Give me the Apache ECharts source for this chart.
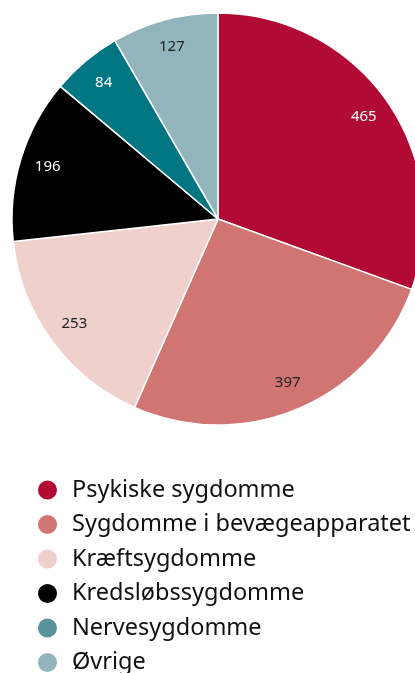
<!DOCTYPE html>
<html><head><meta charset="utf-8">
<script src="https://cdn.jsdelivr.net/npm/echarts@6/dist/echarts.min.js"></script>
<style>html,body{margin:0;padding:0;background:#fff}#c{width:415px;height:673px}</style>
</head><body><div id="c"></div>
<script>
const categories = ["Psykiske sygdomme","Sygdomme i bevægeapparatet","Kræftsygdomme","Kredsløbssygdomme","Nervesygdomme","Øvrige"];
const values = [465,397,253,196,84,127];
const colors = ["#b10a34","#d17572","#f0d0cd","#000000","#007682","#92b4bd"];
const legendColors = ["#b10a34","#d17572","#f0d0cd","#000000","#5a939c","#92b4bd"];
const labelColors = ["#ffffff","#222222","#222222","#ffffff","#ffffff","#222222"];
const FONT = '"Noto Sans", sans-serif';

const chart = echarts.init(document.getElementById('c'), null, {renderer:'canvas'});
chart.setOption({
  animation:false,
  legend:{
    orient:'vertical', left:31, top:473, height:220,
    icon:'circle', itemWidth:21, itemHeight:21, itemGap:10.5,
    selectedMode:false,
    textStyle:{fontFamily:FONT, fontSize:23.5, lineHeight:22, color:'#111', padding:[0,0,0,9]},
    data: categories.map((n,i)=>({name:n, itemStyle:{color:legendColors[i]}}))
  },
  series:[
    {
      type:'pie', center:[218,219], radius:[0,206], startAngle:90, clockwise:true,
      silent:true, label:{show:false}, labelLine:{show:false},
      itemStyle:{borderColor:'#fff', borderWidth:1.5},
      data: categories.map((n,i)=>({name:n, value:values[i], itemStyle:{color:colors[i]}}))
    },
    {
      type:'pie', center:[218,219], radius:[0,350], startAngle:90, clockwise:true,
      silent:true, legendHoverLink:false,
      itemStyle:{color:'rgba(0,0,0,0)', borderWidth:0},
      label:{show:true, position:'inside', fontFamily:FONT, fontSize:15},
      labelLine:{show:false},
      data: categories.map((n,i)=>({name:n, value:values[i], label:{color:labelColors[i], formatter:String(values[i])}}))
    }
  ]
});
</script></body></html>
